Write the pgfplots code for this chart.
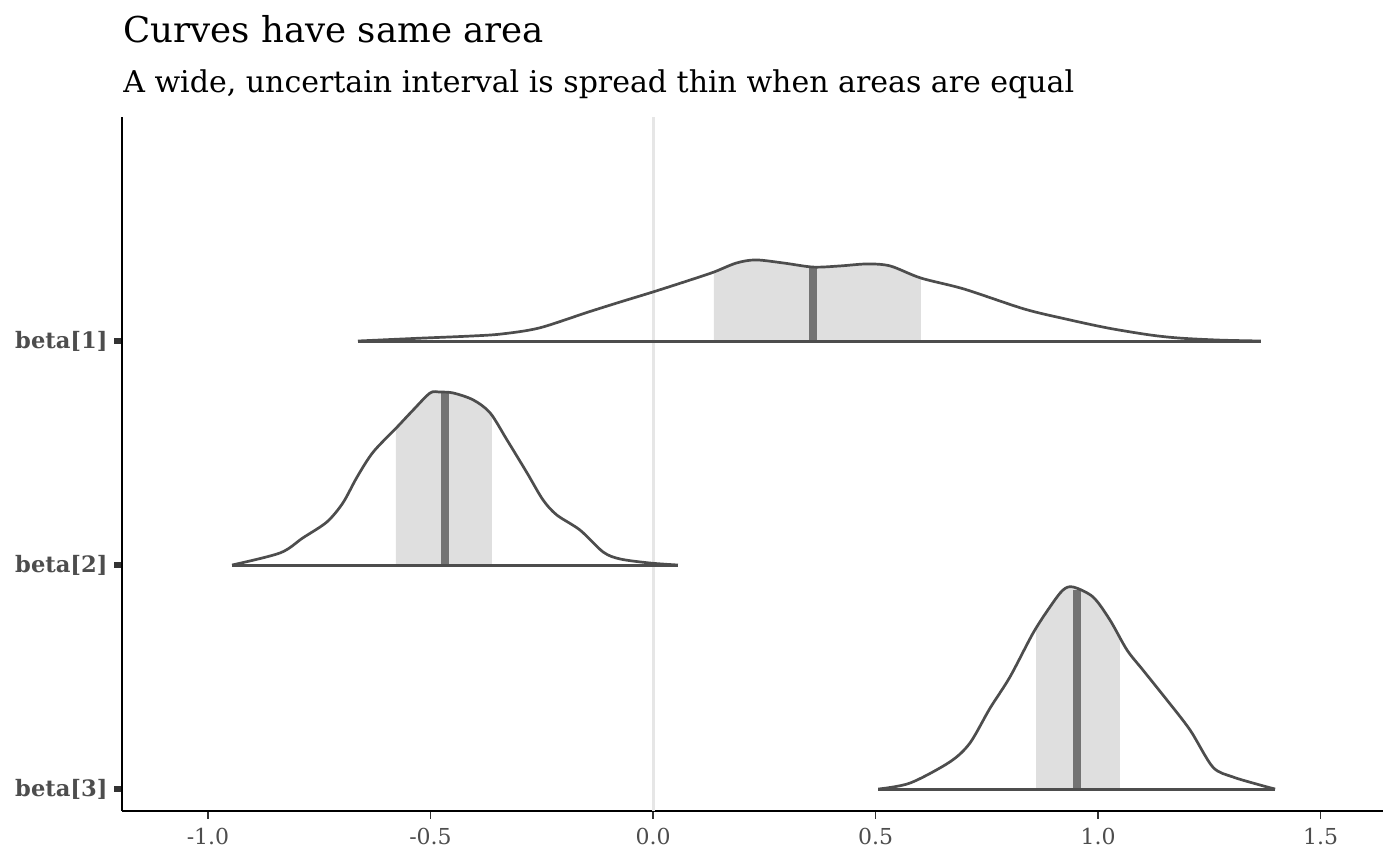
\documentclass[border=0pt]{standalone}
\usepackage{fontspec}
\setmainfont{DejaVu Serif}
\usepackage{pgfplots}
\pgfplotsset{compat=1.18}
\usepgfplotslibrary{fillbetween}

\definecolor{dens}{HTML}{4D4D4D}
\definecolor{fillcol}{HTML}{DFDFDF}
\definecolor{medcol}{HTML}{737373}
\definecolor{zline}{HTML}{E6E6E6}
\definecolor{ticks}{HTML}{333333}
\definecolor{labels}{HTML}{4D4D4D}

\begin{document}
\begin{tikzpicture}
\begin{axis}[
    set layers,
    at={(0,0)}, anchor=south west,
    scale only axis,
    width=630.5bp, height=347bp,
    xmin=-1.1933, xmax=1.6404,
    ymin=0.902, ymax=4.0,
    axis x line*=bottom, axis y line*=left,
    axis line style={line width=1.1bp, black},
    tick align=outside,
    major tick length=3.8bp,
    xtick={-1,-0.5,0,0.5,1,1.5},
    xticklabels={-1.0,-0.5,0.0,0.5,1.0,1.5},
    ytick={1,2,3},
    yticklabels={{beta[3]},{beta[2]},{beta[1]}},
    xtick style={line width=0.7bp, color=ticks},
    ytick style={line width=2.8bp, color=ticks},
    xticklabel style={font=\fontsize{11bp}{13bp}\selectfont, text=labels, inner sep=0pt, anchor=north},
    yticklabel style={font=\bfseries\fontsize{11.3bp}{13bp}\selectfont, text=labels, inner sep=0pt, anchor=east},
    xticklabel shift=4.7bp,
    yticklabel shift=3.2bp,
]
% reference line at zero
\addplot[zline, line width=1.5bp] coordinates {(0,0.902)(0,4.0)};

% medians
\addplot[medcol, line width=3.8bp] coordinates {(0.360,3.0)(0.360,3.325)};
\addplot[medcol, line width=3.8bp] coordinates {(-0.467,2.0)(-0.467,2.766)};
\addplot[medcol, line width=3.8bp] coordinates {(0.953,1.0)(0.953,1.888)};

% beta[1]
\addplot[name path=c1, dens, line width=1.35bp, smooth, tension=0.5] coordinates {
(-0.663,3.000)(-0.530,3.012)(-0.411,3.022)(-0.342,3.031)(-0.256,3.058)
(-0.146,3.129)(-0.074,3.174)(0.000,3.219)(0.083,3.272)(0.137,3.308)
(0.187,3.348)(0.231,3.362)(0.294,3.348)(0.360,3.330)(0.420,3.335)
(0.481,3.344)(0.533,3.335)(0.602,3.281)(0.699,3.232)(0.834,3.143)
(0.928,3.098)(1.022,3.058)(1.117,3.027)(1.184,3.013)(1.274,3.004)
(1.366,3.000)};
\addplot[name path=b1, dens, line width=1.5bp] coordinates {(-0.663,3)(1.366,3)};

% beta[2]
\addplot[name path=c2, dens, line width=1.35bp, smooth, tension=0.5] coordinates {
(-0.946,2.000)(-0.838,2.054)(-0.787,2.121)(-0.733,2.192)(-0.697,2.277)
(-0.665,2.393)(-0.629,2.504)(-0.575,2.616)(-0.539,2.692)(-0.501,2.768)
(-0.479,2.772)(-0.449,2.768)(-0.404,2.737)(-0.366,2.679)(-0.328,2.558)
(-0.283,2.411)(-0.247,2.290)(-0.216,2.223)(-0.164,2.156)(-0.112,2.058)
(-0.074,2.027)(-0.007,2.009)(0.056,2.000)};
\addplot[name path=b2, dens, line width=1.5bp] coordinates {(-0.946,2)(0.056,2)};

% beta[3]
\addplot[name path=c3, dens, line width=1.35bp, smooth, tension=0.5] coordinates {
(0.506,1.000)(0.578,1.027)(0.667,1.121)(0.712,1.205)(0.757,1.360)
(0.802,1.500)(0.854,1.696)(0.892,1.813)(0.921,1.888)(0.944,1.902)
(0.989,1.857)(1.027,1.754)(1.065,1.621)(1.101,1.531)(1.155,1.397)
(1.207,1.263)(1.258,1.098)(1.303,1.054)(1.364,1.018)(1.398,1.000)};
\addplot[name path=b3, dens, line width=1.5bp] coordinates {(0.506,1)(1.398,1)};

% central intervals
\addplot[fill=fillcol, draw=none] fill between[of=c1 and b1, soft clip={domain=0.137:0.602}];
\addplot[fill=fillcol, draw=none] fill between[of=c2 and b2, soft clip={domain=-0.578:-0.362}];
\addplot[fill=fillcol, draw=none] fill between[of=c3 and b3, soft clip={domain=0.861:1.049}];
\end{axis}

\node[anchor=base west, inner sep=0pt, font=\fontsize{17.8bp}{20bp}\selectfont] at (0.5bp,384bp) {Curves have same area};
\node[anchor=base west, inner sep=0pt, font=\fontsize{15bp}{17bp}\selectfont] at (0.5bp,359bp) {A wide, uncertain interval is spread thin when areas are equal};

\pgfresetboundingbox
\path (-61bp,-27.5bp) rectangle (639bp,405.5bp);
\end{tikzpicture}
\end{document}
